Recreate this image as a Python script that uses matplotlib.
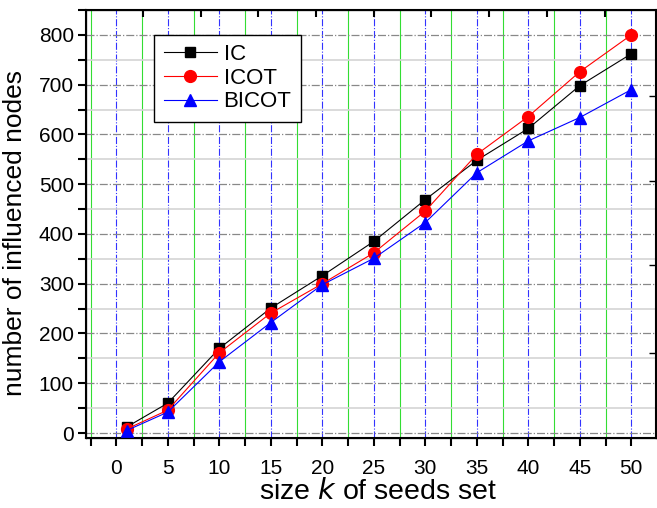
import matplotlib
matplotlib.use("Agg")
import matplotlib.pyplot as plt
from matplotlib.ticker import MultipleLocator

plt.rcParams['font.family'] = ['Liberation Sans', 'DejaVu Sans']

k = [1, 5, 10, 15, 20, 25, 30, 35, 40, 45, 50]
ic = [12, 60, 170, 251, 316, 385, 469, 548, 612, 698, 762]
icot = [8, 46, 161, 241, 300, 362, 446, 560, 636, 726, 800]
bicot = [5, 42, 143, 222, 298, 351, 423, 523, 587, 634, 690]

fig = plt.figure(figsize=(6.57, 5.08), dpi=100)
ax = fig.add_axes([0.1315, 0.1378, 0.867, 0.8425])

ax.set_xlim(-2.9, 52.4)
ax.set_ylim(-10, 850)
ax.xaxis.set_major_locator(MultipleLocator(5))
ax.xaxis.set_minor_locator(MultipleLocator(2.5))
ax.yaxis.set_major_locator(MultipleLocator(100))
ax.yaxis.set_minor_locator(MultipleLocator(50))

ax.grid(which='major', axis='x', color='#3333ff', linestyle='-.', linewidth=0.8)
ax.grid(which='minor', axis='x', color='#33dd33', linestyle='-', linewidth=0.8)
ax.grid(which='major', axis='y', color='#888888', linestyle='-.', linewidth=0.9)
ax.grid(which='minor', axis='y', color='#d4d4d4', linestyle='-', linewidth=1.2)
ax.set_axisbelow(True)

ax.plot(k, ic, color='black', marker='s', markersize=7, linewidth=0.8, label='IC', zorder=3)
ax.plot(k, icot, color='red', marker='o', markersize=8.5, linewidth=0.8, label='ICOT', zorder=4)
ax.plot(k, bicot, color='blue', marker='^', markersize=9, linewidth=0.8, label='BICOT', zorder=5)

ax.tick_params(which='both', direction='out', width=1.5, labelsize=15, top=False, right=False,
               length=6)
ax.tick_params(axis='x', which='major', pad=9)
ax.tick_params(axis='y', which='major', pad=3)
for s in ax.spines.values():
    s.set_linewidth(1.5)

ax.set_xlabel('size $\\it{k}$ of seeds set', fontsize=20.5)
ax.set_ylabel('number of influenced nodes', fontsize=19)
ax.xaxis.set_label_coords(0.513, -0.095)
ax.yaxis.set_label_coords(-0.105, 0.479)

# top ticks (secondary axis)
axt = ax.twiny()
axt.set_xlim(ax.get_xlim())
axt.set_xticks([2.6 + 5.6 * i for i in range(9)])
axt.tick_params(axis='x', direction='in', length=5, width=1.5, labeltop=False)
# right ticks
axr = ax.twinx()
axr.set_ylim(ax.get_ylim())
axr.set_yticks([161, 338, 506, 677])
axr.tick_params(axis='y', direction='in', length=5, width=1, labelright=False)

leg = ax.legend(loc='upper left', bbox_to_anchor=(0.119, 0.942), borderaxespad=0,
                fontsize=16, frameon=True, fancybox=False, edgecolor='black', framealpha=1,
                handlelength=2.4, borderpad=0.42, labelspacing=0.12, handletextpad=0.3)
leg.get_frame().set_linewidth(1.0)

fig.savefig('out.png', dpi=100)
